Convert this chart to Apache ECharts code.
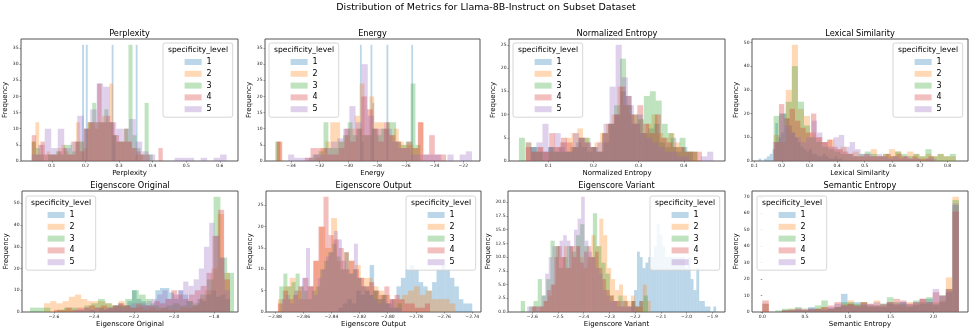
<!DOCTYPE html>
<html>
<head>
<meta charset="utf-8">
<script src="https://cdn.jsdelivr.net/npm/echarts@6/dist/echarts.min.js"></script>
<style>
  html, body { margin: 0; padding: 0; background: #fff; }
  #chart { width: 972px; height: 333px; }
</style>
</head>
<body>
<div id="chart"></div>
<script>
// ---- data: per metric, bin range [lo, hi] of each specificity level + 30 bin counts ----
const levels = ['1', '2', '3', '4', '5'];

const pplRange = [[0.19, 0.355], [0.04, 0.37], [0.04, 0.40], [0.04, 0.43], [0.04, 0.62]];
const pplCounts = [
  [36,0,36,0,0,0,0,0,0,0,0,0,0,0,0,0,36,8,0,0,0,0,0,0,0,0,0,0,0,36],
  [6,12,5,2,3,2,2,4,5,3,2,6,12,6,4,12,12,10,12,14,12,24,8,6,6,10,6,4,2,2],
  [6,4,2,0,2,2,3,2,5,5,3,6,6,10,12,18,12,12,16,12,8,6,6,10,36,8,4,2,18,2],
  [8,2,6,2,2,2,3,4,2,2,6,3,10,12,12,24,12,14,12,8,6,6,6,4,3,2,2,0,0,4],
  [2,5,10,4,10,4,6,14,10,16,24,23,12,10,10,13,6,3,2,0,0,0,1,1,1,0,1,0,1,2]
];
const pplXTicks = [0.1, 0.2, 0.3, 0.4, 0.5, 0.6];
const pplYTicks = [0, 5, 10, 15, 20, 25, 30, 35];

const energyRange = [[-29.2, -25.5], [-35.0, -24.8], [-35.1, -25.0], [-35.0, -23.2], [-34.2, -21.4]];
const energyCounts = [
  [36,6,0,0,0,0,36,18,0,0,0,0,0,0,0,36,0,0,0,0,0,0,0,0,0,0,0,0,0,36],
  [6,0,0,0,0,0,0,0,1,4,6,12,12,6,8,10,14,24,8,20,12,12,10,8,10,6,5,5,4,12],
  [6,0,0,0,0,0,0,1,2,3,12,4,4,6,8,12,8,10,8,8,10,8,10,12,12,6,5,6,24,5],
  [6,0,0,0,0,1,4,4,4,2,2,4,10,6,10,20,16,10,6,12,8,6,4,6,4,12,2,8,2,2],
  [2,1,1,1,2,2,4,6,7,10,17,12,30,14,10,10,10,6,4,4,2,2,2,2,2,0,2,0,2,3]
];
const energyXTicks = [-34, -32, -30, -28, -26, -24, -22];
const energyYTicks = [0, 5, 10, 15, 20, 25, 30, 35];

const normEntRange = [[0.05, 0.42], [0.05, 0.43], [0.035, 0.43], [0.05, 0.44], [0.06, 0.465]];
const normEntCounts = [
  [4,3,2,2,3,2,3,2,3,4,3,2,3,2,4,8,10,15,14,8,10,6,7,8,4,3,5,2,3,2],
  [4,2,3,2,2,3,4,5,6,7,5,3,4,6,8,10,16,12,10,8,6,8,10,6,5,6,4,3,2,2],
  [5,0,3,2,0,3,2,2,2,3,5,5,3,2,6,8,12,22,12,10,9,14,15,13,8,6,3,5,2,2],
  [3,2,3,2,6,3,5,4,3,5,4,3,2,6,8,10,16,14,10,12,8,6,10,5,4,3,3,2,2,2],
  [3,4,8,3,6,4,2,6,5,4,3,4,8,16,25,18,12,8,6,5,4,3,2,2,1,1,0,0,1,2]
];
const normEntXTicks = [0.1, 0.2, 0.3, 0.4];
const normEntYTicks = [0, 5, 10, 15, 20, 25];

const lexRange = [[0.115, 0.42], [0.17, 0.83], [0.17, 0.83], [0.17, 0.75], [0.17, 0.76]];
const lexCounts = [
  [1,0,1,2,3,5,16,10,12,20,18,15,12,10,8,6,5,4,5,3,3,2,2,3,2,1,1,2,1,1],
  [11,8,30,49,22,19,12,10,8,9,5,6,3,4,2,2,5,2,3,5,4,2,4,3,2,3,2,3,2,2],
  [19,20,25,40,25,15,10,8,6,5,4,3,3,2,3,4,3,2,3,2,4,3,2,3,2,5,2,3,2,3],
  [8,24,18,22,17,14,12,20,10,8,9,6,5,4,3,2,2,3,2,2,2,3,2,3,2,1,2,1,1,2],
  [8,20,15,12,10,8,10,17,12,8,6,10,11,6,8,5,3,3,2,3,2,1,2,1,2,1,1,0,1,1]
];
const lexXTicks = [0.1, 0.2, 0.3, 0.4, 0.5, 0.6, 0.7, 0.8];
const lexYTicks = [0, 10, 20, 30, 40, 50];

const eigOrigRange = [[-2.42, -1.72], [-2.65, -1.72], [-2.72, -1.70], [-2.6, -1.72], [-2.5, -1.72]];
const eigOrigCounts = [
  [1,0,2,1,2,3,4,3,5,10,6,5,3,4,10,11,11,9,6,10,8,5,3,6,5,8,10,7,8,6],
  [4,5,4,5,7,8,6,5,5,5,4,3,5,3,2,2,1,2,1,2,1,1,2,2,3,6,10,20,45,18],
  [2,2,2,0,1,2,2,1,3,4,6,4,3,3,6,10,8,6,3,2,3,4,3,5,4,8,15,53,25,18],
  [1,1,2,1,2,2,3,2,3,2,3,4,3,2,4,3,3,5,4,6,10,8,6,8,10,12,18,35,47,15],
  [1,1,2,1,2,1,2,2,3,2,3,4,3,4,5,6,8,10,6,8,10,14,12,15,20,30,41,35,25,10]
];
const eigOrigXTicks = [-2.6, -2.4, -2.2, -2.0, -1.8];
const eigOrigYTicks = [0, 10, 20, 30, 40, 50];

const eigOutRange = [[-2.835, -2.74], [-2.878, -2.752], [-2.877, -2.79], [-2.878, -2.77], [-2.875, -2.79]];
const eigOutCounts = [
  [1,2,3,2,5,4,6,11,5,3,4,2,3,6,8,10,11,10,7,6,5,7,10,11,10,8,6,3,2,2],
  [3,6,8,5,3,6,12,20,15,22,12,10,12,11,8,8,6,5,4,3,3,4,5,6,4,5,3,3,3,2],
  [6,9,6,7,9,6,5,3,5,6,10,12,14,16,13,10,14,9,10,8,6,5,4,5,3,4,2,1,1,2],
  [2,5,3,4,6,8,6,12,20,27,18,17,15,14,12,10,8,6,7,5,4,6,3,4,3,2,2,1,1,2],
  [3,4,2,5,3,8,15,6,4,8,10,13,14,19,17,12,10,9,16,8,6,5,4,3,2,3,2,3,1,1]
];
const eigOutXTicks = [-2.88, -2.86, -2.84, -2.82, -2.80, -2.78, -2.76, -2.74];
const eigOutYTicks = [0, 5, 10, 15, 20, 25];

const eigVarRange = [[-2.215, -1.885], [-2.6, -2.14], [-2.645, -2.15], [-2.6, -2.17], [-2.62, -2.2]];
const eigVarCounts = [
  [2,4,11,10,8,9,10,10,12,16,14,12,10,10,10,10,10,10,10,8,10,6,4,8,2,2,1,1,0,1],
  [1,0,1,2,3,5,12,10,12,8,12,12,10,8,10,14,12,17,14,8,6,4,5,3,2,3,1,1,5,2],
  [2,0,1,2,6,3,6,13,12,8,10,12,11,14,16,12,10,18,12,9,7,3,2,3,2,1,2,1,2,3],
  [1,1,1,2,4,5,10,12,10,8,12,10,12,9,11,12,10,11,8,6,4,3,2,2,1,2,1,2,1,2],
  [1,1,1,1,3,7,10,12,12,13,14,13,12,15,17,21,13,11,10,8,7,4,3,2,2,1,2,1,1,1]
];
const eigVarXTicks = [-2.6, -2.5, -2.4, -2.3, -2.2, -2.1, -2.0, -1.9];
const eigVarYTicks = [0, 2.5, 5, 7.5, 10, 12.5, 15, 17.5, 20];

const semEntRange = [[0, 2.3], [0, 2.3], [0, 2.3], [0, 2.3], [0, 2.3]];
const semEntCounts = [
  [5,0,0,1,1,1,2,3,2,1,2,3,11,5,6,4,3,4,3,5,4,6,3,4,5,8,4,6,12,65],
  [5,0,0,1,2,1,2,1,2,3,2,3,5,7,4,6,4,7,5,6,5,4,6,5,8,5,6,7,21,70],
  [0,0,1,2,2,3,1,2,4,7,2,3,6,6,5,6,4,3,5,9,6,5,4,7,6,9,5,10,14,68],
  [7,0,0,1,1,2,1,2,2,3,4,6,4,5,4,6,5,4,4,6,8,7,5,6,8,6,12,10,14,61],
  [0,0,0,1,1,2,1,2,1,2,3,5,4,4,3,5,5,6,5,6,5,6,5,6,8,6,14,10,13,66]
];
const semEntXTicks = [0, 0.5, 1.0, 1.5, 2.0];
const semEntYTicks = [0, 10, 20, 30, 40, 50, 60, 70];

// ---- layout ----
const FONT = 'DejaVu Sans';
const colors = ['rgba(31,119,180,0.3)', 'rgba(255,127,14,0.3)', 'rgba(44,160,44,0.3)', 'rgba(214,39,40,0.3)', 'rgba(148,103,189,0.3)'];

const panels = [
  { title: 'Perplexity', range: pplRange, counts: pplCounts, xt: pplXTicks, yt: pplYTicks, xd: 1, yd: 0,
    x: [0.008, 0.654], yMax: 37.8, grid: [21, 39, 217, 122], legend: [163, 43] },
  { title: 'Energy', range: energyRange, counts: energyCounts, xt: energyXTicks, yt: energyYTicks, xd: 0, yd: 0,
    x: [-35.81, -20.84], yMax: 37.8, grid: [265, 39, 215, 122], legend: [269, 43] },
  { title: 'Normalized Entropy', range: normEntRange, counts: normEntCounts, xt: normEntXTicks, yt: normEntYTicks, xd: 1, yd: 0,
    x: [0.013, 0.491], yMax: 26.25, grid: [509, 39, 216, 122], legend: [513, 43] },
  { title: 'Lexical Similarity', range: lexRange, counts: lexCounts, xt: lexXTicks, yt: lexYTicks, xd: 1, yd: 0,
    x: [0.0917, 0.874], yMax: 51.45, grid: [752, 39, 216, 122], legend: [893, 43] },
  { title: 'Eigenscore Original', range: eigOrigRange, counts: eigOrigCounts, xt: eigOrigXTicks, yt: eigOrigYTicks, xd: 1, yd: 0,
    x: [-2.76, -1.68], yMax: 55.65, grid: [22, 191, 216, 121], legend: [26, 196] },
  { title: 'Eigenscore Output', range: eigOutRange, counts: eigOutCounts, xt: eigOutXTicks, yt: eigOutYTicks, xd: 2, yd: 0,
    x: [-2.8864, -2.7338], yMax: 28.35, grid: [266, 191, 215, 121], legend: [406, 196] },
  { title: 'Eigenscore Variant', range: eigVarRange, counts: eigVarCounts, xt: eigVarXTicks, yt: eigVarYTicks, xd: 1, yd: 1,
    x: [-2.6946, -1.8506], yMax: 22.05, grid: [508, 191, 217, 121], legend: [650, 196] },
  { title: 'Semantic Entropy', range: semEntRange, counts: semEntCounts, xt: semEntXTicks, yt: semEntYTicks, xd: 1, yd: 0,
    x: [-0.12, 2.406], yMax: 73.5, grid: [752, 191, 216, 121], legend: [757, 196] }
];

const fmt = (d) => (v) => (v < 0 ? '\u2212' : '') + Math.abs(v).toFixed(d);

function renderBar(params, api) {
  const h = api.value(2);
  if (!h) return;
  const a = api.coord([api.value(0), 0]);
  const b = api.coord([api.value(1), h]);
  return {
    type: 'rect',
    shape: { x: a[0], y: b[1], width: b[0] - a[0], height: a[1] - b[1] },
    style: { fill: api.visual('color') }
  };
}

const grids = [], xAxes = [], yAxes = [], series = [], legends = [];
const texts = [{
  type: 'text', x: 486, y: 8,
  style: { text: 'Distribution of Metrics for Llama-8B-Instruct on Subset Dataset', fontSize: 9.5, fontFamily: FONT,
    fill: '#000', align: 'center', verticalAlign: 'middle' }
}];

panels.forEach((p, i) => {
  const [gl, gt, gw, gh] = p.grid;
  grids.push({ left: gl, top: gt, width: gw, height: gh, show: true, borderColor: '#555', borderWidth: 1 });
  xAxes.push({
    type: 'value', gridIndex: i, min: p.x[0], max: p.x[1],
    name: p.title, nameLocation: 'middle', nameGap: 7,
    nameTextStyle: { fontSize: 7, fontFamily: FONT, color: '#000' },
    axisLine: { show: false },
    axisTick: { show: true, length: 1.5, customValues: p.xt, lineStyle: { color: '#555', width: 0.6 } },
    axisLabel: { customValues: p.xt, formatter: fmt(p.xd), fontSize: 4.5, fontFamily: FONT, color: '#222', margin: 2.5 },
    splitLine: { show: false }
  });
  yAxes.push({
    type: 'value', gridIndex: i, min: 0, max: p.yMax,
    name: 'Frequency', nameLocation: 'middle', nameGap: 10,
    nameTextStyle: { fontSize: 7, fontFamily: FONT, color: '#000' },
    axisLine: { show: false },
    axisTick: { show: true, length: 1.5, customValues: p.yt, lineStyle: { color: '#555', width: 0.6 } },
    axisLabel: { customValues: p.yt, formatter: fmt(p.yd), fontSize: 4.5, fontFamily: FONT, color: '#222', margin: 2.5 },
    splitLine: { show: false }
  });
  levels.forEach((lv, k) => {
    const [lo, hi] = p.range[k];
    const w = (hi - lo) / p.counts[k].length;
    series.push({
      type: 'custom', name: lv, xAxisIndex: i, yAxisIndex: i, clip: true,
      itemStyle: { color: colors[k] },
      encode: { x: [0, 1], y: 2 },
      renderItem: renderBar,
      data: p.counts[k].map((c, j) => [lo + j * w, lo + (j + 1) * w, c])
    });
  });
  legends.push({
    data: levels, orient: 'vertical', left: p.legend[0], top: p.legend[1],
    padding: [15, 21, 4, 21.6], itemWidth: 17, itemHeight: 6, itemGap: 3.8,
    icon: 'rect', selectedMode: false,
    backgroundColor: 'rgba(255,255,255,0.8)', borderColor: '#ccc', borderWidth: 0.8, borderRadius: 2,
    textStyle: { fontSize: 8, lineHeight: 8, fontFamily: FONT, color: '#000' }
  });
  texts.push({
    type: 'text', x: gl + gw / 2, y: gt - 5.5,
    style: { text: p.title, fontSize: 8.2, fontFamily: FONT, fill: '#000', align: 'center', verticalAlign: 'middle' }
  });
  texts.push({
    type: 'text', x: p.legend[0] + 35, y: p.legend[1] + 7.5, z: 100,
    style: { text: 'specificity_level', fontSize: 7.6, fontFamily: FONT, fill: '#000', align: 'center', verticalAlign: 'middle' }
  });
});

const chart = echarts.init(document.getElementById('chart'), null, { renderer: 'canvas' });
chart.setOption({
  animation: false,
  backgroundColor: '#fff',
  grid: grids,
  xAxis: xAxes,
  yAxis: yAxes,
  legend: legends,
  series: series,
  graphic: texts
});
</script>
</body>
</html>
